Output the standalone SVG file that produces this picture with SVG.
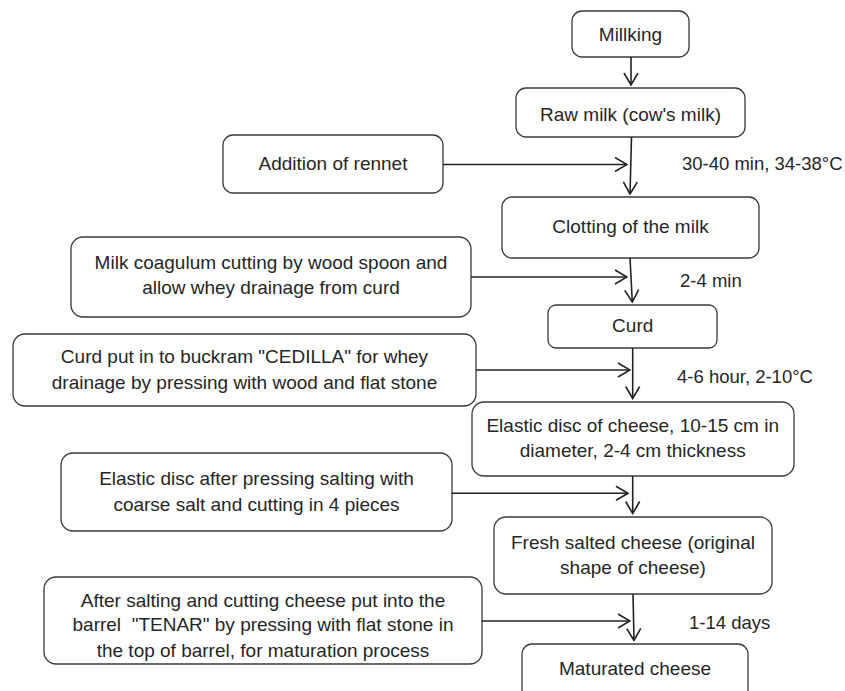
<svg xmlns="http://www.w3.org/2000/svg" width="845" height="691" viewBox="0 0 845 691">
<style>
.box{fill:#fff;stroke:#3a3a3a;stroke-width:1.3}
.t{font-family:"Liberation Sans",Arial,sans-serif;font-size:19px;fill:#262626;text-anchor:middle}
.lbl{font-family:"Liberation Sans",Arial,sans-serif;font-size:18.5px;fill:#262626}
.c{fill:none;stroke:#222;stroke-width:1.6;marker-end:url(#ah)}
</style>
<defs>
<marker id="ah" viewBox="0 0 14 16" refX="13" refY="8" markerWidth="14" markerHeight="16" markerUnits="userSpaceOnUse" orient="auto">
<path d="M1,1 L13,8 L1,15" fill="none" stroke="#222" stroke-width="1.6"/>
</marker>
</defs>
<rect width="845" height="691" fill="#fff"/>
<g id="millking"><rect class="box" x="572" y="11" width="117" height="46" rx="10"/><text class="t" x="630.5" y="41">Millking</text></g>
<g id="raw-milk"><rect class="box" x="516" y="88" width="229" height="49" rx="10"/><text class="t" x="630.5" y="121">Raw milk (cow's milk)</text></g>
<g id="addition-rennet"><rect class="box" x="223" y="135" width="220" height="58" rx="10"/><text class="t" x="333" y="170">Addition of rennet</text></g>
<g id="clotting"><rect class="box" x="502" y="197" width="257" height="61" rx="10"/><text class="t" x="630.5" y="233">Clotting of the milk</text></g>
<g id="coagulum-cutting"><rect class="box" x="71" y="237" width="400" height="80" rx="12"/><text class="t" x="271" y="269">Milk coagulum cutting by wood spoon and</text><text class="t" x="271" y="294">allow whey drainage from curd</text></g>
<g id="curd"><rect class="box" x="548" y="305" width="169" height="43" rx="8"/><text class="t" x="632.7" y="331.5">Curd</text></g>
<g id="cedilla"><rect class="box" x="13" y="334" width="463" height="72" rx="12"/><text class="t" x="244.5" y="363">Curd put in to buckram "CEDILLA" for whey</text><text class="t" x="244.5" y="389">drainage by pressing with wood and flat stone</text></g>
<g id="elastic-disc"><rect class="box" x="472" y="402" width="322" height="74" rx="12"/><text class="t" x="632.7" y="431.5">Elastic disc of cheese, 10-15 cm in</text><text class="t" x="632.7" y="456.5">diameter, 2-4 cm thickness</text></g>
<g id="salting"><rect class="box" x="61" y="453" width="391" height="78" rx="12"/><text class="t" x="256.5" y="485">Elastic disc after pressing salting with</text><text class="t" x="256.5" y="510.5">coarse salt and cutting in 4 pieces</text></g>
<g id="fresh-salted"><rect class="box" x="494" y="517" width="278" height="77" rx="12"/><text class="t" x="633" y="549">Fresh salted cheese (original</text><text class="t" x="633" y="574">shape of cheese)</text></g>
<g id="tenar"><rect class="box" x="44" y="577" width="438" height="87" rx="12"/><text class="t" x="263" y="606.5">After salting and cutting cheese put into the</text><text class="t" x="263" y="631">barrel &#160;"TENAR" by pressing with flat stone in</text><text class="t" x="263" y="656.5">the top of barrel, for maturation process</text></g>
<g id="maturated"><rect class="box" x="522" y="644" width="226" height="62" rx="10"/><text class="t" x="635" y="675">Maturated cheese</text></g>
<g id="labels">
<text class="lbl" x="682" y="170">30-40 min, 34-38°C</text>
<text class="lbl" x="680" y="286.5">2-4 min</text>
<text class="lbl" x="677" y="383">4-6 hour, 2-10°C</text>
<text class="lbl" x="689" y="629">1-14 days</text>
</g>
<g id="connectors">
<path class="c" d="M631,57 L631,85"/>
<path class="c" d="M631.5,137 L630,194"/>
<path class="c" d="M443,164.5 L627,164.5"/>
<path class="c" d="M630,258 L632.3,302"/>
<path class="c" d="M471,277 L627,277"/>
<path class="c" d="M632.7,348 L632.7,398.5"/>
<path class="c" d="M476,370 L630,370"/>
<path class="c" d="M632.7,476 L632.7,513.5"/>
<path class="c" d="M452,493.3 L628,493.3"/>
<path class="c" d="M633,594 L634,640.5"/>
<path class="c" d="M482,621 L630,621"/>
</g>
</svg>
